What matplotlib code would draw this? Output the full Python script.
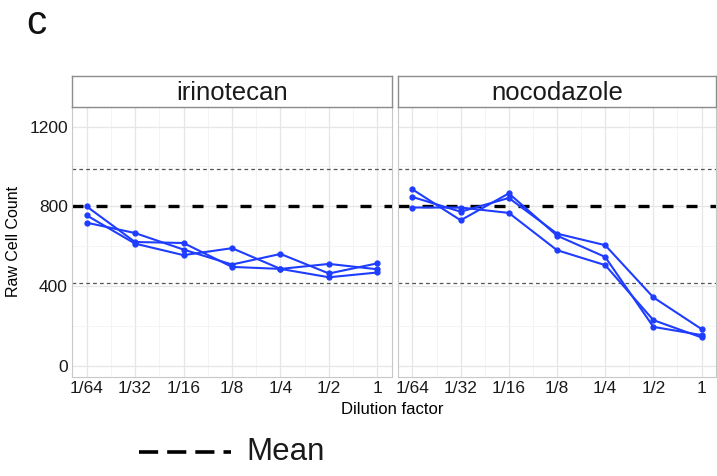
import matplotlib.pyplot as plt
from matplotlib.lines import Line2D

plt.rcParams['font.family'] = ['Liberation Sans', 'DejaVu Sans']

dilutions = ['1/64', '1/32', '1/16', '1/8', '1/4', '1/2', '1']
drugs = ['irinotecan', 'nocodazole']

# raw cell counts, three replicates per drug
irinotecan_r1 = [800, 621, 616, 496, 486, 444, 468]
irinotecan_r2 = [755, 613, 555, 590, 486, 511, 484]
irinotecan_r3 = [718, 666, 583, 508, 561, 463, 514]
nocodazole_r1 = [885, 730, 865, 653, 546, 195, 154]
nocodazole_r2 = [847, 773, 842, 663, 605, 343, 184]
nocodazole_r3 = [794, 794, 767, 580, 505, 229, 142]

mean_count = 800
upper_limit = 985
lower_limit = 415

series = {
    'irinotecan': [irinotecan_r1, irinotecan_r2, irinotecan_r3],
    'nocodazole': [nocodazole_r1, nocodazole_r2, nocodazole_r3],
}

W, H = 717, 476
fig = plt.figure(figsize=(W / 100, H / 100), dpi=100)

panels = [(72, 392), (398, 716)]
top, bottom, strip_top = 106.7, 376.7, 76

x = list(range(1, len(dilutions) + 1))
blue = '#1f3dff'

axes = []
for i, (drug, (x0, x1)) in enumerate(zip(drugs, panels)):
    ax = fig.add_axes([x0 / W, 1 - bottom / H, (x1 - x0) / W, (bottom - top) / H])
    axes.append(ax)
    ax.set_xlim(0.7, 7.3)
    ax.set_ylim(-55, 1300)
    ax.set_xticks(x)
    ax.set_xticks([v + 0.5 for v in x[:-1]], minor=True)
    ax.set_yticks([0, 400, 800, 1200])
    ax.set_yticks([200, 600, 1000], minor=True)
    ax.grid(which='major', color='#e6e6e6', linewidth=0.9)
    ax.grid(which='minor', color='#f3f3f3', linewidth=0.6)
    ax.set_axisbelow(True)
    for s in ax.spines.values():
        s.set_color('#c8c8c8')
        s.set_linewidth(0.8)
    ax.tick_params(which='both', length=0, labelsize=12.5, colors='#1a1a1a', pad=3)
    ax.tick_params(which='minor', length=0)
    ax.set_xticklabels(dilutions)
    if i == 0:
        ax.set_yticklabels(['0', '400', '800', '1200'])
        ax.set_ylabel('Raw Cell Count', fontsize=11.5, labelpad=6)
    else:
        ax.set_yticklabels([])

    ax.axhline(upper_limit, color='#555555', linestyle=(0, (3, 2.5)), linewidth=0.9)
    ax.axhline(lower_limit, color='#555555', linestyle=(0, (3, 2.5)), linewidth=0.9)
    ax.axhline(mean_count, color='black', linestyle=(0, (3.3, 3.9)), linewidth=2.4)

    for rep in series[drug]:
        ax.plot(x, rep, color=blue, linewidth=1.5, marker='o', markersize=3.5)

    # facet strip
    sax = fig.add_axes([x0 / W, 1 - top / H, (x1 - x0) / W, (top - strip_top) / H])
    sax.set_xticks([])
    sax.set_yticks([])
    for s in sax.spines.values():
        s.set_color('#8c8c8c')
        s.set_linewidth(1.0)
    sax.text(0.5, 0.45, drug, ha='center', va='center', fontsize=18.5, color='#1a1a1a',
             transform=sax.transAxes)

fig.text(392 / W, 1 - 410 / H, 'Dilution factor', ha='center', va='center', fontsize=12)
fig.text(26 / W, 1 - 23 / H, 'c', ha='left', va='center', fontsize=29, color='#111111')

# legend for the mean line
leg_ax = fig.add_axes([0, 0, 1, 1], facecolor='none')
leg_ax.set_axis_off()
leg_ax.set_xlim(0, W)
leg_ax.set_ylim(H, 0)
leg_ax.add_line(Line2D([139, 231], [452, 452], color='black', linewidth=2.6,
                       linestyle=(0, (5.3, 2.5))))
leg_ax.text(246, 452, 'Mean', ha='left', va='center', fontsize=22.5, color='#1a1a1a')

fig.savefig('out.png', dpi=100)
